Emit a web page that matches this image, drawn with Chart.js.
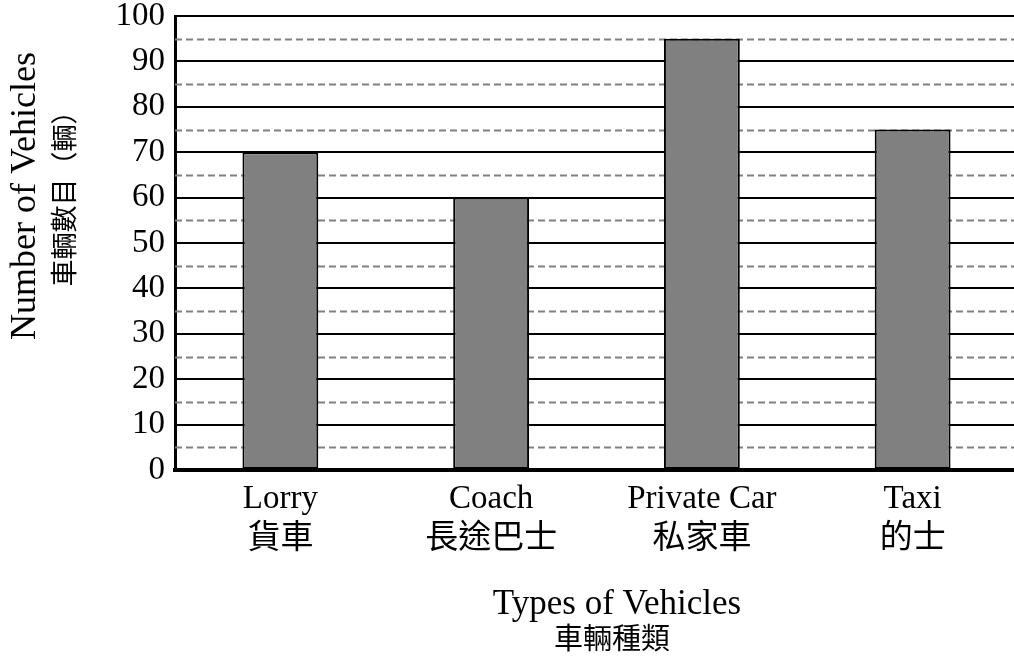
<!DOCTYPE html>
<html>
<head>
<meta charset="utf-8">
<script src="https://cdn.jsdelivr.net/npm/chart.js@4/dist/chart.umd.min.js"></script>
<style>
  html, body { margin: 0; padding: 0; background: #fff; overflow: hidden; }
  #wrap { width: 1018px; height: 664px; }
</style>
</head>
<body>
<div id="wrap"><canvas id="chart"></canvas></div>
<script>
const categories = [
  ["Lorry", "貨車"],
  ["Coach", "長途巴士"],
  ["Private Car", "私家車"],
  ["Taxi", "的士"],
];
const vehicleCounts = [70, 60, 95, 75];
const yMin = 0;
const yMax = 100;
const majorStep = 10;
const minorTicks = [5, 15, 25, 35, 45, 55, 65, 75, 85, 95];
const xTitle = ["Types of Vehicles", "車輛種類"];
const yTitle = ["Number of Vehicles", "車輛數目（輛）"];

const SERIF = '"Liberation Serif", "Noto Sans CJK TC", serif';
const CJK = '"Noto Sans CJK TC", sans-serif';

/* dashed minor gridlines, drawn under the bars */
const minorGrid = {
  id: "minorGrid",
  beforeDatasetsDraw(chart) {
    const { ctx, chartArea } = chart;
    const y = chart.scales.y;
    ctx.save();
    ctx.strokeStyle = "#808080";
    ctx.lineWidth = 2;
    ctx.setLineDash([7, 4]);
    minorTicks.forEach((v) => {
      const py = Math.round(y.getPixelForValue(v)) + 0.5;
      ctx.beginPath();
      ctx.moveTo(chartArea.left, py);
      ctx.lineTo(chartArea.right, py);
      ctx.stroke();
    });
    ctx.restore();
  },
};

/* two-line axis titles, english in serif and chinese a bit smaller */
const axisTitles = {
  id: "axisTitles",
  afterDraw(chart) {
    const { ctx } = chart;
    ctx.save();
    ctx.fillStyle = "#000";
    ctx.textAlign = "center";
    ctx.textBaseline = "middle";

    ctx.font = "35px " + SERIF;
    ctx.fillText(xTitle[0], 617, 605);
    ctx.font = "29px " + CJK;
    ctx.fillText(xTitle[1], 612, 638);

    ctx.translate(26, 196);
    ctx.rotate(-Math.PI / 2);
    ctx.font = "36px " + SERIF;
    ctx.fillText(yTitle[0], 0, 0);
    ctx.font = "27px " + CJK;
    ctx.fillText(yTitle[1], 4, 38);
    ctx.restore();
  },
};

new Chart(document.getElementById("chart"), {
  type: "bar",
  data: {
    labels: categories,
    datasets: [
      {
        data: vehicleCounts,
        backgroundColor: "#808080",
        borderColor: "#000000",
        borderWidth: 2,
        borderSkipped: false,
        categoryPercentage: 1,
        barPercentage: 0.36,
      },
    ],
  },
  options: {
    responsive: true,
    maintainAspectRatio: false,
    animation: false,
    layout: { padding: { top: 16, right: 0, left: 0, bottom: 0 } },
    plugins: { legend: { display: false }, tooltip: { enabled: false } },
    scales: {
      x: {
        grid: { display: false },
        border: { color: "#000", width: 4 },
        ticks: {
          color: "#000",
          font: { family: SERIF, size: 33, lineHeight: 1.22 },
          padding: 1,
          maxRotation: 0,
        },
        afterFit(scale) {
          scale.height = 194;
        },
      },
      y: {
        min: yMin,
        max: yMax,
        ticks: {
          stepSize: majorStep,
          color: "#000",
          font: { family: SERIF, size: 33 },
          padding: 10,
        },
        grid: { color: "#000", lineWidth: 2, drawTicks: false },
        border: { color: "#000", width: 3 },
        afterFit(scale) {
          scale.width = 175;
          scale.paddingTop = 0;
          scale.paddingBottom = 0;
        },
      },
    },
  },
  plugins: [minorGrid, axisTitles],
});
</script>
</body>
</html>
